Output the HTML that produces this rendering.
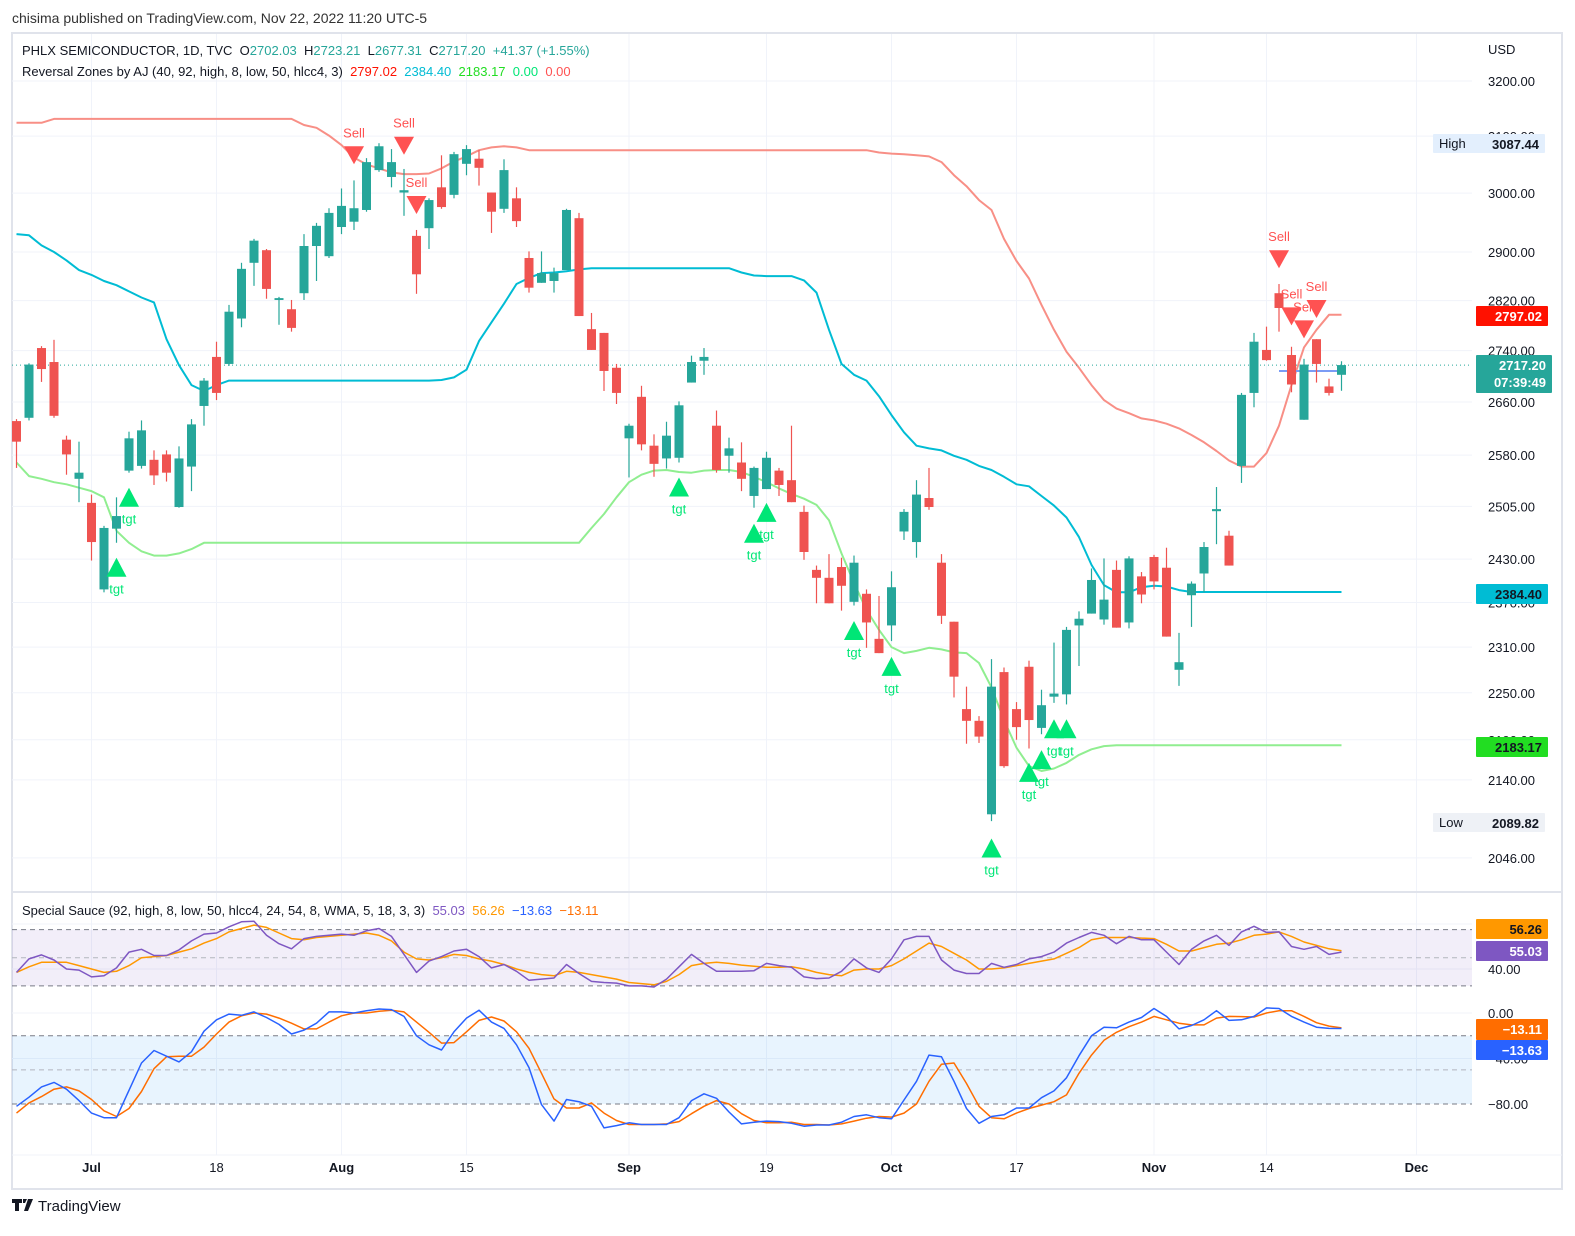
<!DOCTYPE html>
<html><head><meta charset="utf-8"><style>
html,body{margin:0;padding:0;background:#fff;}
body{width:1575px;height:1231px;overflow:hidden;font-family:"Liberation Sans",sans-serif;}
svg text{font-family:"Liberation Sans",sans-serif;}
.pre{white-space:pre;}
</style></head><body>
<svg id="chart" width="1575" height="1231" viewBox="0 0 1575 1231" xmlns="http://www.w3.org/2000/svg">
<rect x="0" y="0" width="1575" height="1231" fill="#fff"/>
<text x="12" y="23" font-size="14" fill="#333">chisima published on TradingView.com, Nov 22, 2022 11:20 UTC-5</text>
<rect x="12" y="33" width="1550" height="1156" fill="none" stroke="#e0e3eb" stroke-width="2"/>
<g id="grid"></g>
<g id="bands"></g>
<g id="zones"></g>
<g id="candles"></g>
<g id="markers"></g>
<g id="osc"></g>
<g id="axes"></g>
<g id="badges"></g>
<text class="pre" x="22" y="55" font-size="13" fill="#131722">PHLX SEMICONDUCTOR, 1D, TVC  O<tspan fill="#26a69a">2702.03</tspan>  H<tspan fill="#26a69a">2723.21</tspan>  L<tspan fill="#26a69a">2677.31</tspan>  C<tspan fill="#26a69a">2717.20</tspan>  <tspan fill="#26a69a">+41.37 (+1.55%)</tspan></text>
<text class="pre" x="22" y="76" font-size="13" fill="#131722">Reversal Zones by AJ (40, 92, high, 8, low, 50, hlcc4, 3)  <tspan fill="#ff1100">2797.02</tspan>  <tspan fill="#00bcd4">2384.40</tspan>  <tspan fill="#22dd22">2183.17</tspan>  <tspan fill="#00e676">0.00</tspan>  <tspan fill="#ff5252">0.00</tspan></text>
<text class="pre" x="22" y="915" font-size="13" fill="#131722">Special Sauce (92, high, 8, low, 50, hlcc4, 24, 54, 8, WMA, 5, 18, 3, 3)  <tspan fill="#7e57c2">55.03</tspan>  <tspan fill="#ff9800">56.26</tspan>  <tspan fill="#2962ff">−13.63</tspan>  <tspan fill="#ff6d00">−13.11</tspan></text>
<g>
<path d="M12 1199h10v4h-3v8h-4v-8h-3z M23 1199h4l-2 4h-2z M28 1199h5l-5 12h-4z" fill="#131722"/>
<text x="38" y="1211" font-size="15" fill="#131722">TradingView</text>
</g>
</svg>
<script>
// ---------- data ----------
const tickIdx=[6,16,26,36,49,60,70,80,91,100,112];
const tickText=['Jul','18','Aug','15','Sep','19','Oct','17','Nov','14','Dec'];
const priceTicks=[3200,3100,3000,2900,2820,2740,2660,2580,2505,2430,2370,2310,2250,2190,2140,2046];
const openV=[2631,2636,2744,2722,2603,2545,2510,2388,2473,2557,2564,2573,2581,2504,2563,2654,2730,2719,2791,2882,2903,2821,2806,2832,2910,2893,2942,2951,2971,3040,3028,3001,2927,2940,3010,2997,3051,3060,3001,2973,2991,2890,2849,2852,2870,2957,2774,2768,2713,2605,2668,2594,2575,2576,2690,2724,2624,2579,2569,2520,2530,2557,2543,2497,2415,2404,2419,2371,2382,2321,2339,2469,2454,2517,2425,2344,2229,2214,2098,2277,2229,2284,2205,2245,2248,2339,2355,2347,2415,2343,2406,2433,2418,2280,2380,2410,2498,2463,2564,2674,2741,2832,2733,2633,2758,2684,2702.03];
const highV=[2634,2720,2747,2757,2609,2600,2522,2477,2518,2615,2632,2587,2587,2593,2634,2697,2754,2813,2882,2922,2905,2826,2821,2930,2949,2974,3008,3022,3061,3087.44,3077,3042,2937,2991,3066,3072,3084,3075,3001,3059,3010,2901,2901,2874,2973,2966,2800,2768,2719,2627,2685,2611,2630,2661,2732,2744,2647,2606,2599,2563,2585,2561,2624,2506,2421,2437,2432,2435,2388,2379,2413,2501,2543,2561,2437,2344,2258,2220,2294,2283,2238,2292,2254,2316,2337,2358,2417,2431,2428,2434,2412,2436,2446,2329,2399,2454,2533,2470,2674,2768,2778,2847,2746,2727,2758,2696,2723.21];
const lowV=[2561,2632,2691,2636,2551,2511,2428,2384,2453,2554,2560,2536,2541,2503,2527,2624,2663,2716,2777,2844,2823,2781,2770,2821,2852,2890,2930,2937,2968,3037,3010,2961,2831,2905,2973,2991,3031,3013,2932,2966,2942,2833,2849,2833,2870,2795,2741,2677,2657,2547,2587,2548,2560,2569,2690,2702,2554,2554,2527,2503,2530,2520,2511,2429,2369,2369,2359,2366,2309,2302,2318,2457,2432,2500,2341,2244,2185,2186,2089.82,2155,2190,2179,2197,2237,2235,2285,2355,2340,2336,2335,2369,2388,2324,2259,2337,2384,2451,2421,2539,2652,2724,2770,2675,2633,2690,2670,2677.31];
const closeV=[2600,2718,2711,2639,2581,2554,2454,2474,2491,2605,2617,2550,2554,2575,2626,2693,2674,2802,2872,2919,2839,2824,2776,2910,2944,2966,2978,2974,3054,3082,3054,3005,2863,2988,2976,3068,3077,3044,2968,3040,2952,2841,2865,2865,2971,2795,2741,2708,2674,2624,2596,2567,2609,2655,2722,2730,2558,2590,2545,2561,2576,2536,2511,2440,2404,2369,2393,2425,2343,2302,2391,2497,2522,2504,2352,2271,2214,2194,2258,2157,2206,2215,2234,2249,2333,2348,2401,2374,2336,2431,2381,2399,2324,2290,2396,2447,2501,2421,2671,2754,2725,2808,2687,2718,2719,2674,2717.20];
const upperZone=[3124,3124,3124,3131,3131,3131,3131,3131,3131,3131,3131,3131,3131,3131,3131,3131,3131,3131,3131,3131,3131,3131,3131,3120,3115,3101,3084,3062,3050,3043,3036,3033,3033,3034,3043,3055,3064,3075,3080,3082,3080,3075,3075,3075,3075,3075,3075,3075,3075,3075,3075,3075,3075,3075,3075,3075,3075,3075,3075,3075,3075,3075,3075,3075,3075,3075,3075,3075,3075,3071,3069,3068,3066,3064,3054,3031,3012,2988,2971,2922,2885,2856,2813,2773,2738,2713,2686,2663,2650,2643,2635,2632,2627,2620,2610,2599,2586,2572,2563,2563,2583,2624,2686,2745,2773,2797,2797.02];
const midZone=[2930,2928,2911,2900,2886,2870,2862,2852,2845,2835,2825,2817,2758,2717,2686,2677,2686,2693,2693,2693,2693,2693,2693,2693,2693,2693,2693,2693,2693,2693,2693,2693,2693,2693,2694,2698,2710,2755,2785,2815,2847,2857,2865,2866,2868,2871,2873,2873,2873,2873,2873,2873,2873,2873,2873,2873,2873,2873,2866,2861,2860,2860,2860,2853,2833,2773,2719,2702,2693,2669,2640,2614,2594,2590,2587,2579,2573,2564,2558,2548,2537,2534,2520,2506,2489,2461,2422,2394,2384,2384,2391,2393,2392,2387,2384.4,2384.4,2384.4,2384.4,2384.4,2384.4,2384.4,2384.4,2384.4,2384.4,2384.4,2384.4,2384.4];
const lowerZone=[2569,2549,2545,2540,2537,2532,2527,2518,2470,2453,2441,2435,2435,2438,2444,2453,2453,2453,2453,2453,2453,2453,2453,2453,2453,2453,2453,2453,2453,2453,2453,2453,2453,2453,2453,2453,2453,2453,2453,2453,2453,2453,2453,2453,2453,2453,2474,2494,2518,2540,2551,2557,2558,2555,2554,2557,2558,2558,2555,2548,2540,2531,2523,2516,2507,2485,2438,2397,2360,2333,2310,2302,2305,2309,2307,2303,2302,2289,2257,2215,2180,2157,2151,2154,2161,2171,2178,2182,2183,2183.17,2183.17,2183.17,2183.17,2183.17,2183.17,2183.17,2183.17,2183.17,2183.17,2183.17,2183.17,2183.17,2183.17,2183.17,2183.17,2183.17,2183.17];
const sellIdx=[27,31,32,101,102,103,104];
const sellTop=[3082,3099,2995,2903,2809,2788,2821];
const tgtIdx=[8,9,53,59,60,67,70,78,81,82,83,84];
const tgtTop=[2432,2532,2547,2480,2510,2345,2297,2069,2161,2177,2216,2216];
const oscK=[37,49,52.5,48,40,39,33,34,41,55,57.5,52,52,57,65,71,72,77.5,82,82.5,70,62.5,58,67,69,70,71,70,74,76,69,53,37,47,51,56,57.5,51,41,44,38,30,31,32,44,36,29,28,27.5,25,25,24,31,42,53,45,38,38,38,38.5,45,43,41.5,33,31.5,32,38,49,41,37,49,66,69,69,48,39,36,36,45,41.5,44,49,51,55,63,68,72.5,70,62.5,69,66,66,55,44,57.5,65,70,61,73,78,72.5,73,60,57.5,60,53,55.03];
const oscD=[37,42,46,46,46,43,40,37,38,43,50,51,52,55,58,63,67,73,76,79,77,72,67,66,68,69,70,71,72,70,65,55,49,48,50,53,52,49,47,44,40,37,35,34,38,37,35,33,31,28,27,26,29,35,43,45,46,45,43.5,42.5,41.5,41.5,42,40,37,35,34,39,40,40,43,49,56,63,60,54,48,40,40,41,43,45,47,49,54,59,66,68,68,68,67.5,67,62,56,56,59,62,63,66,70,71,73,69,64,61,58,56.26];
const momFast=[-82,-74,-65,-61,-67,-77,-88,-92,-92,-68,-44,-33,-38,-43,-34,-16,-6,-1,-2,1,-4,-10,-18.5,-15,-9,1,1,0,2,3.5,3,-3,-20,-28,-32.5,-16.5,-4.5,2.5,-8,-13.5,-28,-48,-80.5,-95,-76,-78,-82,-101,-99,-96.5,-98,-98,-98,-92,-77,-71,-75,-87,-97.5,-96,-95,-95.5,-97,-99.5,-98.5,-98.5,-96,-91,-89.5,-92,-93,-76.5,-60,-37,-38.5,-60,-84,-97,-91,-89.5,-83.5,-83.5,-74.5,-68.5,-57,-37.5,-20,-12.5,-13,-8,-4,4,-3,-14,-11,-6,2,-6.5,-6,-3,4.5,4,-3,-8,-12.5,-13.5,-13.63];
const momSlow=[-88,-79,-73.5,-67,-65,-68.5,-76,-86,-91,-84,-69,-49,-38.5,-38,-38,-30,-18.5,-8,-2.5,0,-1,-4.5,-9,-14,-14,-8,-2.5,0,0,1.5,2.5,1,-8,-17,-26.5,-26,-16.5,-6.5,-3.5,-7,-16.5,-31,-53,-75.5,-83.5,-83.5,-79,-88,-94.5,-98,-98,-98,-97.5,-95.5,-88.5,-82,-77,-80,-88.5,-94.5,-96.5,-96.5,-96,-98,-98,-98.5,-97.5,-95,-92.5,-91,-91.5,-88,-80,-60,-45,-44,-62,-82,-92,-93,-88,-84,-81,-78,-72,-53,-37,-24,-17,-12,-8,-3,-6,-9,-10.5,-10.5,-4.5,-3,-3.2,-3.5,0,2,2,-3,-8.5,-11.5,-13.11];
const upperOscTicks=[80,40];
const lowerOscTicks=[0,-40,-80];

// ---------- scales ----------
const NS='http://www.w3.org/2000/svg';
const X=i=>16.5+12.5*i;
const Y=p=>81+1737*(Math.log(3200)-Math.log(p));
const YU=v=>969-(v-40)*1.125;
const YL=v=>1013-v*1.1375;
const PL=12, PR=1472;
function mk(tag,attrs,parent){const e=document.createElementNS(NS,tag);for(const k in attrs)e.setAttribute(k,attrs[k]);parent.appendChild(e);return e;}
const G=id=>document.getElementById(id);

// grid
const grid=G('grid');
tickIdx.forEach((t,k)=>{
  const l=mk('line',{x1:X(t),x2:X(t),y1:34,y2:1155,stroke:'#f0f3fa','stroke-width':1},grid);
  
  
});
priceTicks.forEach(p=>{
  const l=mk('line',{x1:PL,x2:PR,y1:Y(p),y2:Y(p),stroke:'#f0f3fa','stroke-width':1},grid);
  
  
});
[YU(80),YU(40),YL(0),YL(-40)].forEach(y=>{
  const l=mk('line',{x1:PL,x2:PR,y1:y,y2:y,stroke:'#f0f3fa','stroke-width':1},grid);
  
  
});
const sep=mk('line',{x1:12,x2:1562,y1:892,y2:892,stroke:'#e0e3eb','stroke-width':2},grid);


const sep2=mk('line',{x1:12,x2:1562,y1:1155,y2:1155,stroke:'#f0f3fa','stroke-width':1},grid);



// osc bands
const bands=G('bands');
const b1=mk('rect',{x:PL,y:YU(75),width:PR-PL,height:YU(25)-YU(75),fill:'rgba(126,87,194,0.1)'},bands);


const b2=mk('rect',{x:PL,y:YL(-20),width:PR-PL,height:YL(-80)-YL(-20),fill:'rgba(33,150,243,0.1)'},bands);


[[YU(75),'#787b86'],[YU(50),'#b2b5be'],[YU(25),'#787b86'],[YL(-20),'#787b86'],[YL(-50),'#b2b5be'],[YL(-80),'#787b86']].forEach(a=>{
  const l=mk('line',{x1:PL,x2:PR,y1:a[0],y2:a[0],stroke:a[1],'stroke-width':1,'stroke-dasharray':'5,4'},bands);
  
  
});

// zones
const zones=G('zones');
function poly(arr,fy,color,w,parent,name){
  const pts=arr.map((v,i)=>X(i).toFixed(1)+','+fy(v).toFixed(1)).join(' ');
  const p=mk('polyline',{points:pts,fill:'none',stroke:color,'stroke-width':w,'stroke-linejoin':'round'},parent);
  
  
  return p;
}
poly(upperZone,Y,'#f88f86',2,zones,'upper-reversal-zone');
poly(midZone,Y,'#00bcd4',2,zones,'middle-reversal-zone');
poly(lowerZone,Y,'#90ee90',2,zones,'lower-reversal-zone');
const cl=mk('line',{x1:PL,x2:PR,y1:Y(closeV[closeV.length-1]),y2:Y(closeV[closeV.length-1]),stroke:'#26a69a','stroke-width':1,'stroke-dasharray':'1,3'},zones);


const bl=mk('line',{x1:X(101),x2:X(106),y1:Y(2708),y2:Y(2708),stroke:'#7b9cf5','stroke-width':2},zones);



// candles
const cg=G('candles');
openV.forEach((o,i)=>{
  const c=closeV[i],up=c>=o,col=up?'#26a69a':'#ef5350',x=X(i);
  const w=mk('line',{x1:x,x2:x,y1:Y(highV[i]),y2:Y(lowV[i]),stroke:col,'stroke-width':1.2},cg);
  
  
  const t=Y(Math.max(o,c)),b=Y(Math.min(o,c));
  const r=mk('rect',{x:x-4.5,y:t,width:9,height:Math.max(1.5,b-t),fill:col},cg);
  
  
});

// markers
const mg=G('markers');
sellIdx.forEach((i,k)=>{
  const x=X(i),y=Y(sellTop[k]);
  const t=mk('polygon',{points:`${x-10},${y} ${x+10},${y} ${x},${y+18}`,fill:'#ff5252'},mg);
  
  
  const tx=mk('text',{x:x,y:y-9,'font-size':13,fill:'#ff5252','text-anchor':'middle'},mg);
  tx.textContent='Sell';
  
  
});
tgtIdx.forEach((i,k)=>{
  const x=X(i),y=Y(tgtTop[k]);
  const t=mk('polygon',{points:`${x},${y} ${x+10},${y+19} ${x-10},${y+19}`,fill:'#00e676'},mg);
  
  
  const tx=mk('text',{x:x,y:y+36,'font-size':13,fill:'#00e676','text-anchor':'middle'},mg);
  tx.textContent='tgt';
  
  
});

// oscillators
const og=G('osc');
poly(oscD,YU,'#ff9800',1.5,og,'special-sauce-signal');
poly(oscK,YU,'#7e57c2',1.5,og,'special-sauce-main');
poly(momSlow,YL,'#ff6d00',1.5,og,'momentum-slow');
poly(momFast,YL,'#2962ff',1.5,og,'momentum-fast');

// axes
const ag=G('axes');
const usd=mk('text',{x:1488,y:54,'font-size':13,fill:'#131722'},ag);
usd.textContent='USD';


priceTicks.forEach(p=>{
  const t=mk('text',{x:1488,y:Y(p)+5,'font-size':13,fill:'#131722'},ag);
  t.textContent=p.toFixed(2);
  
  
});
upperOscTicks.forEach(v=>{
  const t=mk('text',{x:1488,y:YU(v)+5,'font-size':13,fill:'#131722'},ag);
  t.textContent=v.toFixed(2);
  
  
});
lowerOscTicks.forEach(v=>{
  const t=mk('text',{x:1488,y:YL(v)+5,'font-size':13,fill:'#131722'},ag);
  t.textContent=(v<0?'−'+Math.abs(v).toFixed(2):v.toFixed(2));
  
  
});
tickIdx.forEach((t,k)=>{
  const bold=isNaN(+tickText[k]);
  const e=mk('text',{x:X(t),y:1172,'font-size':13,fill:'#131722','text-anchor':'middle','font-weight':bold?'bold':'normal'},ag);
  e.textContent=tickText[k];
  
  
});

// badges
const bg=G('badges');
function badge(y,h,fill,lines,tc,name,x,w,label){
  x=x||1476;w=w||72;
  const r=mk('rect',{x:x,y:y,width:w,height:h,fill:fill,rx:1},bg);
  
  
  if(label){const l=mk('text',{x:x+6,y:y+14,'font-size':13,fill:tc},bg);l.textContent=label;
    
    }
  lines.forEach((s,k)=>{
    const t=mk('text',{x:x+w-6,y:y+15+k*17,'font-size':13,fill:tc,'text-anchor':'end','font-weight':'bold'},bg);
    t.textContent=s;
    
    
  });
}
badge(134,19,'#e3effd',['3087.44'],'#131722','high-badge',1433,112,'High');
badge(813,19,'#eef1f6',['2089.82'],'#131722','low-badge',1433,112,'Low');
badge(306,20,'#ff1100',[upperZone[upperZone.length-1].toFixed(2)],'#fff','upper-zone-badge');
badge(355,38,'#26a69a',[closeV[closeV.length-1].toFixed(2),'07:39:49'],'#fff','last-price-badge',1476,76);
badge(584,20,'#00bcd4',[midZone[midZone.length-1].toFixed(2)],'#131722','middle-zone-badge');
badge(737,20,'#22dd22',[lowerZone[lowerZone.length-1].toFixed(2)],'#131722','lower-zone-badge');
badge(919,20,'#ff9800',[oscD[oscD.length-1].toFixed(2)],'#131722','signal-badge');
badge(941,20,'#7e57c2',[oscK[oscK.length-1].toFixed(2)],'#fff','main-osc-badge');
badge(1019,21,'#ff6d00',['−'+Math.abs(momSlow[momSlow.length-1]).toFixed(2)],'#fff','momentum-slow-badge');
badge(1040,20,'#2962ff',['−'+Math.abs(momFast[momFast.length-1]).toFixed(2)],'#fff','momentum-fast-badge');
</script>
</body></html>
